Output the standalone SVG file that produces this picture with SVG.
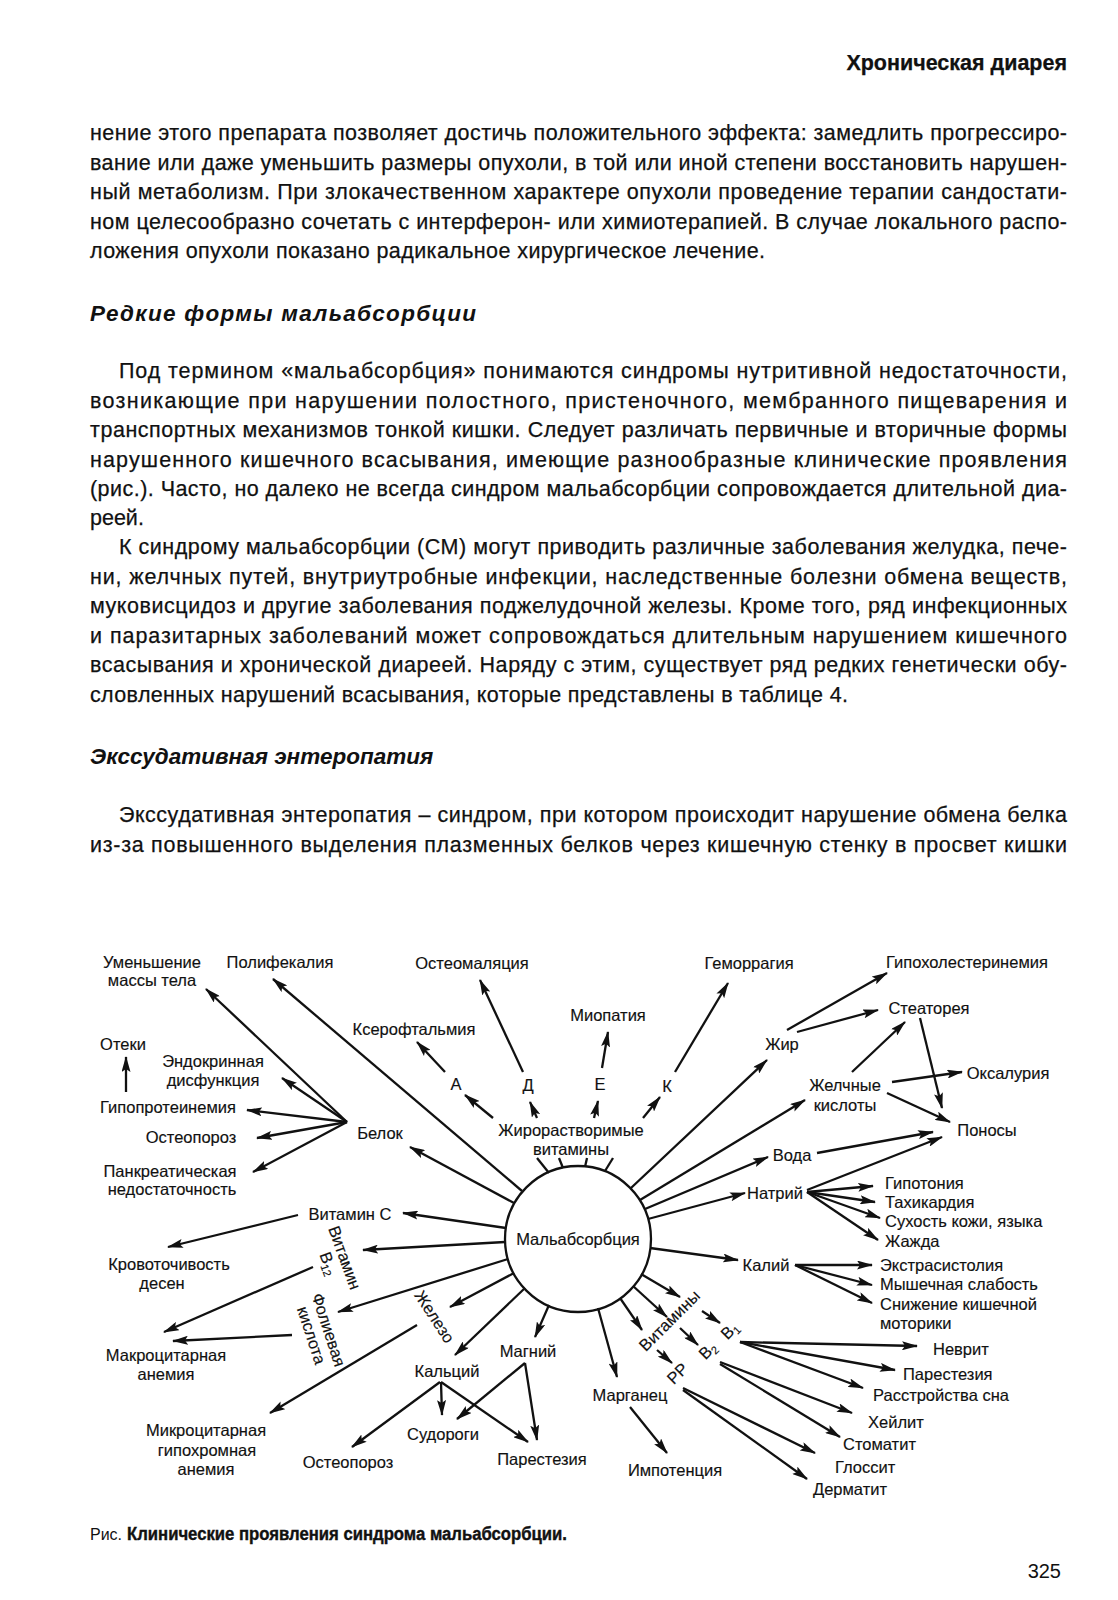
<svg xmlns="http://www.w3.org/2000/svg" width="1118" height="1600" viewBox="0 0 1118 1600">
<defs>
<marker id="ah" viewBox="0 0 16 9" refX="15" refY="4.5" markerWidth="16" markerHeight="9" markerUnits="userSpaceOnUse" orient="auto">
<path d="M0,0 L16,4.5 L0,9 L3,4.5 Z" fill="#111"/>
</marker>
<style>
.t{font-family:"Liberation Sans",Arial,sans-serif;font-size:21.5px;fill:#111;stroke:#111;stroke-width:0.25}
.cap{font-family:"Liberation Sans",Arial,sans-serif;font-size:16px;fill:#111}
.capb{font-family:"Liberation Sans",Arial,sans-serif;font-size:18px;font-weight:bold;fill:#111;stroke:#111;stroke-width:0.4}
.h{font-family:"Liberation Sans",Arial,sans-serif;font-size:22.5px;font-weight:bold;font-style:italic;fill:#111}
.n{font-family:"Liberation Sans",Arial,sans-serif;font-size:16.5px;fill:#111;text-anchor:middle;stroke:#111;stroke-width:0.15}
.l{text-anchor:start}
.c line{stroke:#111;stroke-width:2.3;marker-end:url(#ah)}
.c line.p{marker-end:none}
</style>
</defs>
<rect width="1118" height="1600" fill="#fff"/>

<g id="page-text">
<text class="t" x="1067" y="70" text-anchor="end" font-weight="bold">Хроническая диарея</text>
<text class="t" x="90" y="140" textLength="977">нение этого препарата позволяет достичь положительного эффекта: замедлить прогрессиро-</text>
<text class="t" x="90" y="169.5" textLength="977">вание или даже уменьшить размеры опухоли, в той или иной степени восстановить нарушен-</text>
<text class="t" x="90" y="199" textLength="977">ный метаболизм. При злокачественном характере опухоли проведение терапии сандостати-</text>
<text class="t" x="90" y="228.5" textLength="977">ном целесообразно сочетать с интерферон- или химиотерапией. В случае локального распо-</text>
<text class="t" x="90" y="258" textLength="675">ложения опухоли показано радикальное хирургическое лечение.</text>
<text class="h" x="90" y="321" textLength="386">Редкие формы мальабсорбции</text>
<text class="t" x="119" y="378" textLength="948">Под термином «мальабсорбция» понимаются синдромы нутритивной недостаточности,</text>
<text class="t" x="90" y="408" textLength="977">возникающие при нарушении полостного, пристеночного, мембранного пищеварения и</text>
<text class="t" x="90" y="437" textLength="977">транспортных механизмов тонкой кишки. Следует различать первичные и вторичные формы</text>
<text class="t" x="90" y="466.5" textLength="977">нарушенного кишечного всасывания, имеющие разнообразные клинические проявления</text>
<text class="t" x="90" y="495.5" textLength="977">(рис.). Часто, но далеко не всегда синдром мальабсорбции сопровождается длительной диа-</text>
<text class="t" x="90" y="524.5">реей.</text>
<text class="t" x="119" y="554" textLength="948">К синдрому мальабсорбции (СМ) могут приводить различные заболевания желудка, пече-</text>
<text class="t" x="90" y="583.5" textLength="977">ни, желчных путей, внутриутробные инфекции, наследственные болезни обмена веществ,</text>
<text class="t" x="90" y="613" textLength="977">муковисцидоз и другие заболевания поджелудочной железы. Кроме того, ряд инфекционных</text>
<text class="t" x="90" y="642.5" textLength="977">и паразитарных заболеваний может сопровождаться длительным нарушением кишечного</text>
<text class="t" x="90" y="672" textLength="977">всасывания и хронической диареей. Наряду с этим, существует ряд редких генетически обу-</text>
<text class="t" x="90" y="701.5" textLength="758">словленных нарушений всасывания, которые представлены в таблице 4.</text>
<text class="h" x="90" y="764">Экссудативная энтеропатия</text>
<text class="t" x="119" y="822" textLength="948">Экссудативная энтеропатия – синдром, при котором происходит нарушение обмена белка</text>
<text class="t" x="90" y="852" textLength="977">из-за повышенного выделения плазменных белков через кишечную стенку в просвет кишки</text>
<text class="cap" x="90" y="1540">Рис.</text>
<text class="capb" x="127" y="1540" textLength="440" lengthAdjust="spacingAndGlyphs">Клинические проявления синдрома мальабсорбции.</text>
<text class="cap" x="1061" y="1578" text-anchor="end" style="font-size:20px">325</text>
</g>

<g id="connectors" class="c">
<line x1="347" y1="1122" x2="206" y2="989"/>
<line x1="347" y1="1122" x2="282" y2="1078"/>
<line x1="347" y1="1122" x2="247" y2="1110"/>
<line x1="347" y1="1122" x2="257" y2="1138"/>
<line x1="347" y1="1122" x2="253" y2="1172"/>
<line x1="126" y1="1092" x2="126" y2="1057"/>
<line x1="522" y1="1191" x2="273" y2="979"/>
<line x1="514" y1="1203" x2="410" y2="1147"/>
<line x1="506" y1="1228" x2="403" y2="1213"/>
<line x1="298" y1="1215" x2="168" y2="1247"/>
<line x1="505" y1="1242" x2="363" y2="1250"/>
<line x1="313" y1="1267" x2="164" y2="1332"/>
<line x1="508" y1="1259" x2="338" y2="1312"/>
<line x1="292" y1="1335" x2="173" y2="1341"/>
<line x1="514" y1="1273" x2="450" y2="1307"/>
<line x1="417" y1="1325" x2="270" y2="1413"/>
<line x1="525" y1="1288" x2="455" y2="1355"/>
<line x1="440" y1="1382" x2="352" y2="1447"/>
<line x1="441" y1="1382" x2="442" y2="1415"/>
<line x1="441" y1="1382" x2="528" y2="1442"/>
<line x1="549" y1="1305" x2="535" y2="1337"/>
<line x1="525" y1="1363" x2="457" y2="1419"/>
<line x1="525" y1="1363" x2="537" y2="1440"/>
<line x1="598" y1="1308" x2="617" y2="1377"/>
<line x1="630" y1="1407" x2="667" y2="1453"/>
<line x1="620" y1="1298" x2="642" y2="1330"/>
<line x1="657" y1="1350" x2="672" y2="1363"/>
<line x1="633" y1="1286" x2="667" y2="1317"/>
<line x1="680" y1="1328" x2="698" y2="1345"/>
<line x1="641" y1="1274" x2="680" y2="1297"/>
<line x1="702" y1="1311" x2="720" y2="1323"/>
<line x1="740" y1="1342" x2="917" y2="1346"/>
<line x1="740" y1="1342" x2="895" y2="1370"/>
<line x1="740" y1="1342" x2="863" y2="1388"/>
<line x1="720" y1="1362" x2="852" y2="1413"/>
<line x1="720" y1="1364" x2="840" y2="1437"/>
<line x1="683" y1="1388" x2="815" y2="1453"/>
<line x1="683" y1="1390" x2="807" y2="1479"/>
<line x1="650" y1="1248" x2="738" y2="1260"/>
<line x1="795" y1="1265" x2="872" y2="1265"/>
<line x1="795" y1="1265" x2="872" y2="1285"/>
<line x1="795" y1="1265" x2="872" y2="1303"/>
<line x1="648" y1="1219" x2="745" y2="1193"/>
<line x1="807" y1="1192" x2="873" y2="1186"/>
<line x1="807" y1="1192" x2="875" y2="1202"/>
<line x1="807" y1="1192" x2="880" y2="1218"/>
<line x1="807" y1="1192" x2="878" y2="1240"/>
<line x1="807" y1="1190" x2="942" y2="1137"/>
<line x1="645" y1="1209" x2="768" y2="1157"/>
<line x1="817" y1="1153" x2="933" y2="1132"/>
<line x1="640" y1="1200" x2="805" y2="1100"/>
<line x1="852" y1="1072" x2="905" y2="1022"/>
<line x1="892" y1="1082" x2="962" y2="1072"/>
<line x1="887" y1="1093" x2="950" y2="1122"/>
<line x1="920" y1="1018" x2="942" y2="1108"/>
<line x1="631" y1="1188" x2="767" y2="1060"/>
<line x1="787" y1="1030" x2="887" y2="973"/>
<line x1="797" y1="1032" x2="878" y2="1010"/>
<line x1="445" y1="1072" x2="417" y2="1042"/>
<line x1="523" y1="1072" x2="480" y2="980"/>
<line x1="602" y1="1068" x2="608" y2="1032"/>
<line x1="675" y1="1072" x2="728" y2="983"/>
<line x1="493" y1="1118" x2="465" y2="1095"/>
<line x1="537" y1="1118" x2="530" y2="1102"/>
<line x1="594" y1="1118" x2="598" y2="1101"/>
<line x1="643" y1="1118" x2="660" y2="1097"/>
<line class="p" x1="537" y1="1158" x2="549" y2="1173"/>
<line class="p" x1="559" y1="1158" x2="563" y2="1168"/>
<line class="p" x1="587" y1="1158" x2="585" y2="1167"/>
<line class="p" x1="613" y1="1158" x2="605" y2="1171"/>
</g>

<g id="n-center"><circle cx="578" cy="1239" r="73" fill="none" stroke="#111" stroke-width="2.3"/><text class="n" x="578" y="1245">Мальабсорбция</text></g>
<g id="n-ves"><text class="n" x="152" y="968">Уменьшение</text><text class="n" x="152" y="986">массы тела</text></g>
<g id="n-polifek"><text class="n" x="280" y="968">Полифекалия</text></g>
<g id="n-osteomal"><text class="n" x="472" y="969">Остеомаляция</text></g>
<g id="n-gemorr"><text class="n" x="749" y="969">Геморрагия</text></g>
<g id="n-gipohol"><text class="n" x="967" y="968">Гипохолестеринемия</text></g>
<g id="n-kseroft"><text class="n" x="414" y="1035">Ксерофтальмия</text></g>
<g id="n-miop"><text class="n" x="608" y="1021">Миопатия</text></g>
<g id="n-steat"><text class="n" x="929" y="1014">Стеаторея</text></g>
<g id="n-oteki"><text class="n" x="123" y="1050">Отеки</text></g>
<g id="n-endokr"><text class="n" x="213" y="1067">Эндокринная</text><text class="n" x="213" y="1086">дисфункция</text></g>
<g id="n-zhir"><text class="n" x="782" y="1050">Жир</text></g>
<g id="n-vitA"><text class="n" x="456" y="1090">А</text></g>
<g id="n-vitD"><text class="n" x="528" y="1091">Д</text></g>
<g id="n-vitE"><text class="n" x="600" y="1090">Е</text></g>
<g id="n-vitK"><text class="n" x="667" y="1092">К</text></g>
<g id="n-zhelch"><text class="n" x="845" y="1091">Желчные</text><text class="n" x="845" y="1111">кислоты</text></g>
<g id="n-oksal"><text class="n" x="1008" y="1079">Оксалурия</text></g>
<g id="n-gipoprot"><text class="n" x="168" y="1113">Гипопротеинемия</text></g>
<g id="n-osteop1"><text class="n" x="191" y="1143">Остеопороз</text></g>
<g id="n-belok"><text class="n" x="380" y="1139">Белок</text></g>
<g id="n-zhirorast"><text class="n" x="571" y="1136">Жирорастворимые</text><text class="n" x="571" y="1155">витамины</text></g>
<g id="n-ponosy"><text class="n" x="987" y="1136">Поносы</text></g>
<g id="n-pankr"><text class="n" x="170" y="1177">Панкреатическая</text><text class="n" x="172" y="1195">недостаточность</text></g>
<g id="n-voda"><text class="n" x="792" y="1161">Вода</text></g>
<g id="n-natriy"><text class="n" x="775" y="1199">Натрий</text></g>
<g id="n-natriy-eff"><text class="n l" x="885" y="1189">Гипотония</text><text class="n l" x="885" y="1208">Тахикардия</text><text class="n l" x="885" y="1227">Сухость кожи, языка</text><text class="n l" x="885" y="1247">Жажда</text></g>
<g id="n-vitC"><text class="n" x="350" y="1220">Витамин С</text></g>
<g id="n-krovot"><text class="n" x="169" y="1270">Кровоточивость</text><text class="n" x="162" y="1289">десен</text></g>
<g id="n-kaliy"><text class="n" x="766" y="1271">Калий</text></g>
<g id="n-kaliy-eff"><text class="n l" x="880" y="1271">Экстрасистолия</text><text class="n l" x="880" y="1290">Мышечная слабость</text><text class="n l" x="880" y="1310">Снижение кишечной</text><text class="n l" x="880" y="1329">моторики</text></g>
<g id="n-vitB12" transform="translate(344,1258) rotate(70)"><text class="n" x="0" y="5">Витамин</text><text class="n" x="0" y="22">B<tspan font-size="11" dy="3">12</tspan></text></g>
<g id="n-folieva" transform="translate(328,1330) rotate(72)"><text class="n" x="0" y="5">Фолиевая</text><text class="n" x="0" y="23">кислота</text></g>
<g id="n-zhelezo" transform="translate(434,1317) rotate(57)"><text class="n" x="0" y="5">Железо</text></g>
<g id="n-vitaminy" transform="translate(670,1321) rotate(-45)"><text class="n" x="0" y="5">Витамины</text></g>
<g id="n-vitB1" transform="translate(730,1331) rotate(-45)"><text class="n" x="0" y="5">B<tspan font-size="11" dy="3">1</tspan></text></g>
<g id="n-vitB2" transform="translate(708,1351) rotate(-45)"><text class="n" x="0" y="5">B<tspan font-size="11" dy="3">2</tspan></text></g>
<g id="n-vitPP" transform="translate(678,1374) rotate(-45)"><text class="n" x="0" y="5">PP</text></g>
<g id="n-makro"><text class="n" x="166" y="1361">Макроцитарная</text><text class="n" x="166" y="1380">анемия</text></g>
<g id="n-magniy"><text class="n" x="528" y="1357">Магний</text></g>
<g id="n-kalciy"><text class="n" x="447" y="1377">Кальций</text></g>
<g id="n-nevrit"><text class="n l" x="933" y="1355">Неврит</text></g>
<g id="n-parest1"><text class="n l" x="903" y="1380">Парестезия</text></g>
<g id="n-son"><text class="n l" x="873" y="1401">Расстройства сна</text></g>
<g id="n-marganec"><text class="n" x="630" y="1401">Марганец</text></g>
<g id="n-heylit"><text class="n l" x="868" y="1428">Хейлит</text></g>
<g id="n-mikro"><text class="n" x="206" y="1436">Микроцитарная</text><text class="n" x="207" y="1456">гипохромная</text><text class="n" x="206" y="1475">анемия</text></g>
<g id="n-sudorogi"><text class="n" x="443" y="1440">Судороги</text></g>
<g id="n-stomatit"><text class="n l" x="843" y="1450">Стоматит</text></g>
<g id="n-osteop2"><text class="n" x="348" y="1468">Остеопороз</text></g>
<g id="n-parest2"><text class="n" x="542" y="1465">Парестезия</text></g>
<g id="n-impot"><text class="n" x="675" y="1476">Импотенция</text></g>
<g id="n-glossit"><text class="n l" x="835" y="1473">Глоссит</text></g>
<g id="n-dermatit"><text class="n l" x="813" y="1495">Дерматит</text></g>
</svg>
